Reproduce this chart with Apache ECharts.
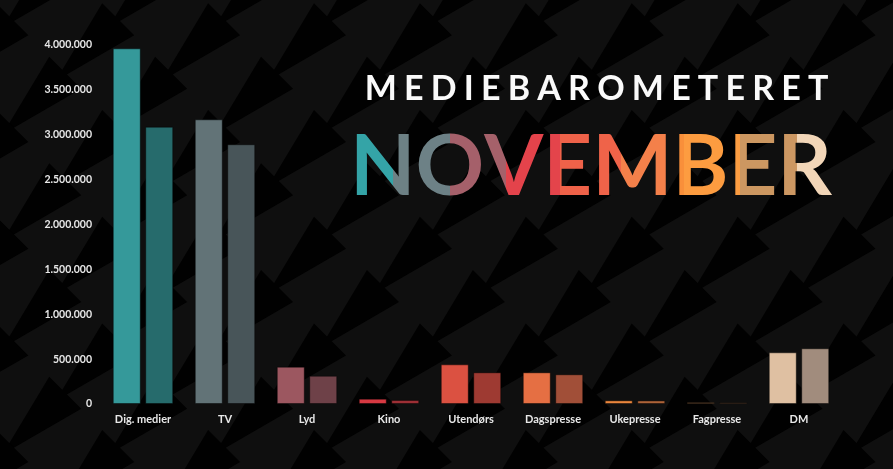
<!DOCTYPE html>
<html>
<head>
<meta charset="utf-8">
<script src="https://cdn.jsdelivr.net/npm/echarts@6/dist/echarts.min.js"></script>
<style>
  html, body { margin: 0; padding: 0; background: #0f0f0f; }
  #chart { width: 893px; height: 469px; }
</style>
</head>
<body>
<div id="chart"></div>
<script>
// ---- data ----
const categories = ['Dig. medier', 'TV', 'Lyd', 'Kino', 'Utendørs', 'Dagspresse', 'Ukepresse', 'Fagpresse', 'DM'];
const seriesA = [3963000, 3172000, 416000, 59000, 442000, 353000, 41000, 20000, 576000];
const seriesB = [3090000, 2894000, 315000, 45000, 353000, 331000, 40000, 18000, 621000];
const yTicks = [0, 500000, 1000000, 1500000, 2000000, 2500000, 3000000, 3500000, 4000000];
const titleTop = 'MEDIEBAROMETERET';
const titleMain = 'NOVEMBER';

// ---- styles ----
const colorsA = ['#379fa0', '#66787c', '#a25b64', '#e03b45', '#e45444', '#ee7446', '#f58b3f', '#c98f5c', '#e8c8a9'];
const colorsB = ['#286f70', '#4b585d', '#73444b', '#a33137', '#a43c34', '#a8523a', '#b4673a', '#a2714c', '#a89282'];
// per-letter colour split of NOVEMBER: [left colour, right colour, split fraction of the visible glyph]
const letterSplits = [
  ['#34a4a7', '#6d8185', 0.69],
  ['#6d8186', '#a5606a', 0.50],
  ['#a5616a', '#e4434b', 0.38],
  ['#e4444b', '#ef6249', 0.27],
  ['#ef6349', '#f4804a', 0.33],
  ['#f98f3a', '#fd9c40', 0.12],
  ['#fb9c41', '#cc9761', 0.14],
  ['#cc9762', '#f2d6b8', 0.27]
];

const mainFont = 'bold 85px Lato';
const topFont = 'bold 34px Lato';

// Draw each NOVEMBER glyph with a hard two-colour split (zrender text fill only accepts flat colours)
(function () {
  const proto = CanvasRenderingContext2D.prototype;
  const orig = proto.fillText;
  proto.fillText = function (text, x, y, maxW) {
    if (typeof text === 'string' && text.length === 1 && this.font.indexOf('85px') >= 0) {
      const fs = String(this.fillStyle).toLowerCase();
      for (let i = 0; i < titleMain.length; i++) {
        const s = letterSplits[i];
        if (titleMain[i] === text && s[1] === fs) {
          const m = this.measureText(text);
          const l = -m.actualBoundingBoxLeft, r = m.actualBoundingBoxRight;
          const cut = x + l + s[2] * (r - l);
          const g = this.createLinearGradient(cut - 0.5, 0, cut + 0.5, 0);
          g.addColorStop(0, s[0]); g.addColorStop(0.5, s[0]);
          g.addColorStop(0.5, s[1]); g.addColorStop(1, s[1]);
          const prev = this.fillStyle;
          this.fillStyle = g;
          const res = orig.call(this, text, x, y, maxW);
          this.fillStyle = prev;
          return res;
        }
      }
    }
    return orig.apply(this, arguments);
  };
})();

const chart = echarts.init(document.getElementById('chart'), null, { renderer: 'canvas' });
const mctx = document.createElement('canvas').getContext('2d');

// Title 1: letter-spaced
mctx.font = topFont;
const topW = mctx.measureText(titleTop).width;
const topGap = (463 - topW) / (titleTop.length - 1);
const topRich = { l: { fill: '#fafafa', font: topFont, padding: [0, topGap / 2, 0, topGap / 2] } };
const topText = titleTop.split('').map(c => '{l|' + c + '}').join('');

// Title 2
const mainRich = {};
const mainText = titleMain.split('').map((c, i) => {
  mainRich['c' + i] = { font: mainFont, fill: letterSplits[i][1] };
  return '{c' + i + '|' + c + '}';
}).join('');

// background arrow pattern (decoration)
const bg = [];
const ax = 105.9, by = 53.35, bx = 52.95;
for (let j = -6; j <= 9; j++) {
  for (let i = -6; i <= 12; i++) {
    const x = 314 + ax * i + bx * j;
    const y = 216.7 + by * j;
    if (x < -150 || x > 1050 || y < -120 || y > 520) continue;
    bg.push({
      type: 'polygon', silent: true, z: -10,
      shape: { points: [[x, y], [x + 32, y + 32], [x - 46.6, y + 77.6]] },
      style: { fill: '#010101' }
    });
  }
}

const fmt = v => String(v).replace(/\B(?=(\d{3})+(?!\d))/g, '.');

const option = {
  backgroundColor: '#0f0f0f',
  animation: false,
  grid: { left: 102, right: 53, top: 45, bottom: 65, containLabel: false, outerBoundsMode: 'none' },
  xAxis: {
    type: 'category',
    data: categories,
    axisLine: { show: false },
    axisTick: { show: false },
    axisLabel: { color: '#e8e8e8', fontFamily: 'Lato', fontWeight: 'bold', fontSize: 11, margin: 10 }
  },
  yAxis: {
    type: 'value',
    min: yTicks[0],
    max: yTicks[yTicks.length - 1],
    interval: yTicks[1] - yTicks[0],
    splitLine: { show: false },
    axisLine: { show: false },
    axisTick: { show: false },
    axisLabel: { color: '#e8e8e8', fontFamily: 'Lato', fontWeight: 'bold', fontSize: 10.5, margin: 10, formatter: fmt }
  },
  series: [
    {
      type: 'bar', data: seriesA, barWidth: 28, barGap: '16%',
      itemStyle: { color: p => colorsA[p.dataIndex], borderColor: 'rgba(0,0,0,0.45)', borderWidth: 1, opacity: 0.96 }
    },
    {
      type: 'bar', data: seriesB, barWidth: 28, barGap: '16%',
      itemStyle: { color: p => colorsB[p.dataIndex], borderColor: 'rgba(0,0,0,0.45)', borderWidth: 1, opacity: 0.96 }
    }
  ],
  graphic: bg.concat([
    {
      type: 'text', z: 20, x: 596.5, y: 89.5,
      style: { text: topText, rich: topRich, align: 'center', verticalAlign: 'middle', fill: '#fafafa', font: topFont }
    },
    {
      type: 'text', z: 20, x: 591, y: 168,
      style: { text: mainText, rich: mainRich, align: 'center', verticalAlign: 'middle', font: mainFont }
    }
  ])
};
chart.setOption(option);
</script>
</body>
</html>
